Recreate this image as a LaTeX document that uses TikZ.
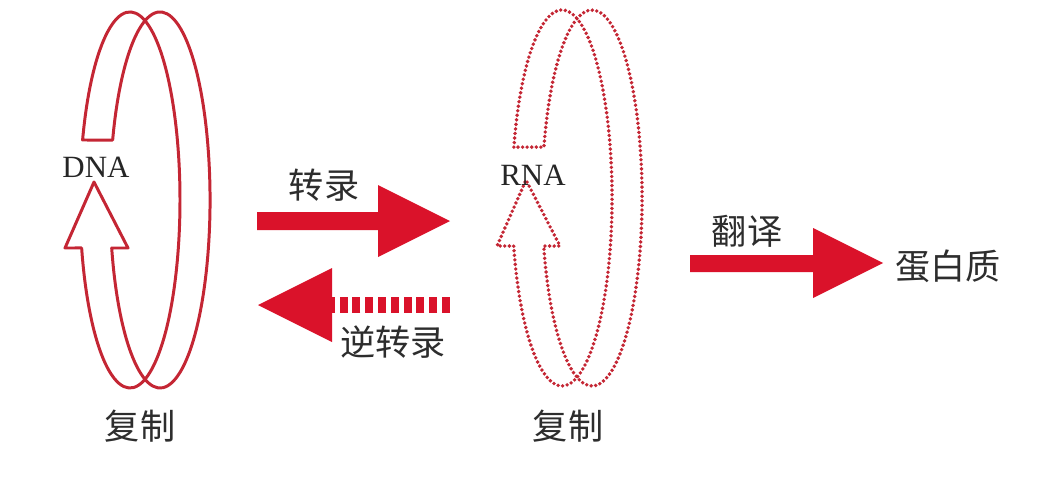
\documentclass[tikz,border=0pt]{standalone}
\usepackage{fontspec}
\usepackage{tikz}
\newfontfamily\cjk{Noto Sans CJK SC}
\newfontfamily\enserif{Liberation Serif}
\definecolor{ringred}{RGB}{196,38,52}
\definecolor{arrowred}{RGB}{218,18,42}
\definecolor{labelgray}{RGB}{45,45,45}

\begin{document}
\begin{tikzpicture}[thick,scale=1,
  ringsolid/.style={draw=ringred,line width=0.85pt,line join=round},
  ringdots/.style={draw=ringred,line width=1.1pt,line cap=round,dash pattern=on 0pt off 1.3pt},
  zhlabel/.style={text=labelgray,font=\cjk\fontsize{10}{12}\selectfont,inner sep=0},
  enlabel/.style={text=black!85,font=\enserif\fontsize{8.8}{10}\selectfont,inner sep=0}]

\useasboundingbox (0,0) rectangle (10.49,-4.82);

% DNA ring
\begin{scope}

\draw [ringsolid] (0.826,-1.40) arc[start angle=161.4,end angle=-165.2,x radius=0.5,y radius=1.88] -- (0.65,-2.48) -- (0.94,-1.82) -- (1.28,-2.48) -- (1.117,-2.48) arc[start angle=-165.2,end angle=161.4,x radius=0.5,y radius=1.88] -- cycle;

\end{scope}

% RNA ring
\begin{scope}[xshift=4.32cm,yshift=0.02cm]

\draw [ringdots] (0.819,-1.491) arc[start angle=164.3,end angle=-165.2,x radius=0.5,y radius=1.88] -- (0.65,-2.48) -- (0.94,-1.82) -- (1.28,-2.48) -- (1.117,-2.48) arc[start angle=-165.2,end angle=164.3,x radius=0.5,y radius=1.88] -- cycle;

\end{scope}

% arrows
\fill [arrowred] (2.57,-2.12) -- (3.78,-2.12) -- (3.78,-1.85) -- (4.50,-2.21) -- (3.78,-2.57) -- (3.78,-2.30) -- (2.57,-2.30) -- cycle;

\draw [arrowred,line width=1.6mm,dash pattern=on 0.8mm off 0.48mm] (4.50,-3.05) -- (3.30,-3.05);

\fill [arrowred] (3.32,-2.68) -- (2.58,-3.05) -- (3.32,-3.42) -- cycle;

\fill [arrowred] (6.90,-2.55) -- (8.13,-2.55) -- (8.13,-2.28) -- (8.83,-2.63) -- (8.13,-2.98) -- (8.13,-2.72) -- (6.90,-2.72) -- cycle;

% labels
\node [enlabel] (dnalabel) at (0.96,-1.67) {DNA};

\node [enlabel] (rnalabel) at (5.33,-1.75) {RNA};

\node [zhlabel] (zhuanlu) at (3.24,-1.85) {转录};

\node [zhlabel] (nizhuanlu) at (3.93,-3.42) {逆转录};

\node [zhlabel] (fanyi) at (7.47,-2.31) {翻译};

\node [zhlabel] (danbaizhi) at (9.48,-2.66) {蛋白质};

\node [zhlabel] (fuzhileft) at (1.40,-4.26) {复制};

\node [zhlabel] (fuzhiright) at (5.68,-4.26) {复制};

\end{tikzpicture}
\end{document}
